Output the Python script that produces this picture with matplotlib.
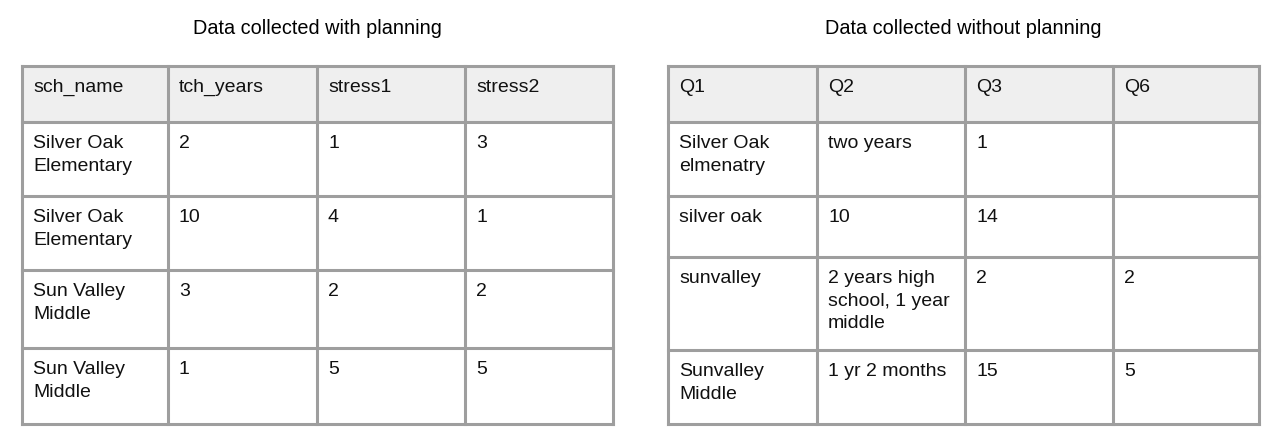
import matplotlib.pyplot as plt
from matplotlib.patches import Rectangle

plt.rcParams['font.family'] = ['Liberation Sans', 'DejaVu Sans']

title_left = 'Data collected with planning'
header_left = ['sch_name', 'tch_years', 'stress1', 'stress2']
rows_left = [
    ['Silver Oak\nElementary', '2', '1', '3'],
    ['Silver Oak\nElementary', '10', '4', '1'],
    ['Sun Valley\nMiddle', '3', '2', '2'],
    ['Sun Valley\nMiddle', '1', '5', '5'],
]

title_right = 'Data collected without planning'
header_right = ['Q1', 'Q2', 'Q3', 'Q6']
rows_right = [
    ['Silver Oak\nelmenatry', 'two years', '1', ''],
    ['silver oak', '10', '14', ''],
    ['sunvalley', '2 years high\nschool, 1 year\nmiddle', '2', '2'],
    ['Sunvalley\nMiddle', '1 yr 2 months', '15', '5'],
]

# layout in pixels
col_left = [22, 168, 317, 465, 613]
rowy_left = [66, 122, 196, 270, 348, 424]
col_right = [668, 817, 965, 1113, 1259]
rowy_right = [66, 122, 196, 257, 350, 424]

fig = plt.figure(figsize=(12.71, 4.37), dpi=100)
ax = fig.add_axes([0, 0, 1, 1])
ax.set_xlim(0, 1271)
ax.set_ylim(437, 0)
ax.axis('off')


def draw_table(title, header, rows, xs, ys):
    ax.text((xs[0] + xs[-1]) / 2, 28, title, ha='center', va='center', fontsize=14.3)
    ax.add_patch(Rectangle((xs[0], ys[0]), xs[-1] - xs[0], ys[1] - ys[0],
                           facecolor='#efefef', edgecolor='none'))
    for r, row in enumerate([header] + rows):
        for c, val in enumerate(row):
            ax.text(xs[c] + 11, ys[r] + 13, val, ha='left', va='top',
                    fontsize=14, linespacing=1.43, color='#111111')
    for x in xs:
        ax.plot([x, x], [ys[0], ys[-1]], color='#9e9e9e', lw=2.2, solid_capstyle='projecting')
    for y in ys:
        ax.plot([xs[0], xs[-1]], [y, y], color='#9e9e9e', lw=2.2, solid_capstyle='projecting')


draw_table(title_left, header_left, rows_left, col_left, rowy_left)
draw_table(title_right, header_right, rows_right, col_right, rowy_right)

fig.savefig('out.png', dpi=100)
